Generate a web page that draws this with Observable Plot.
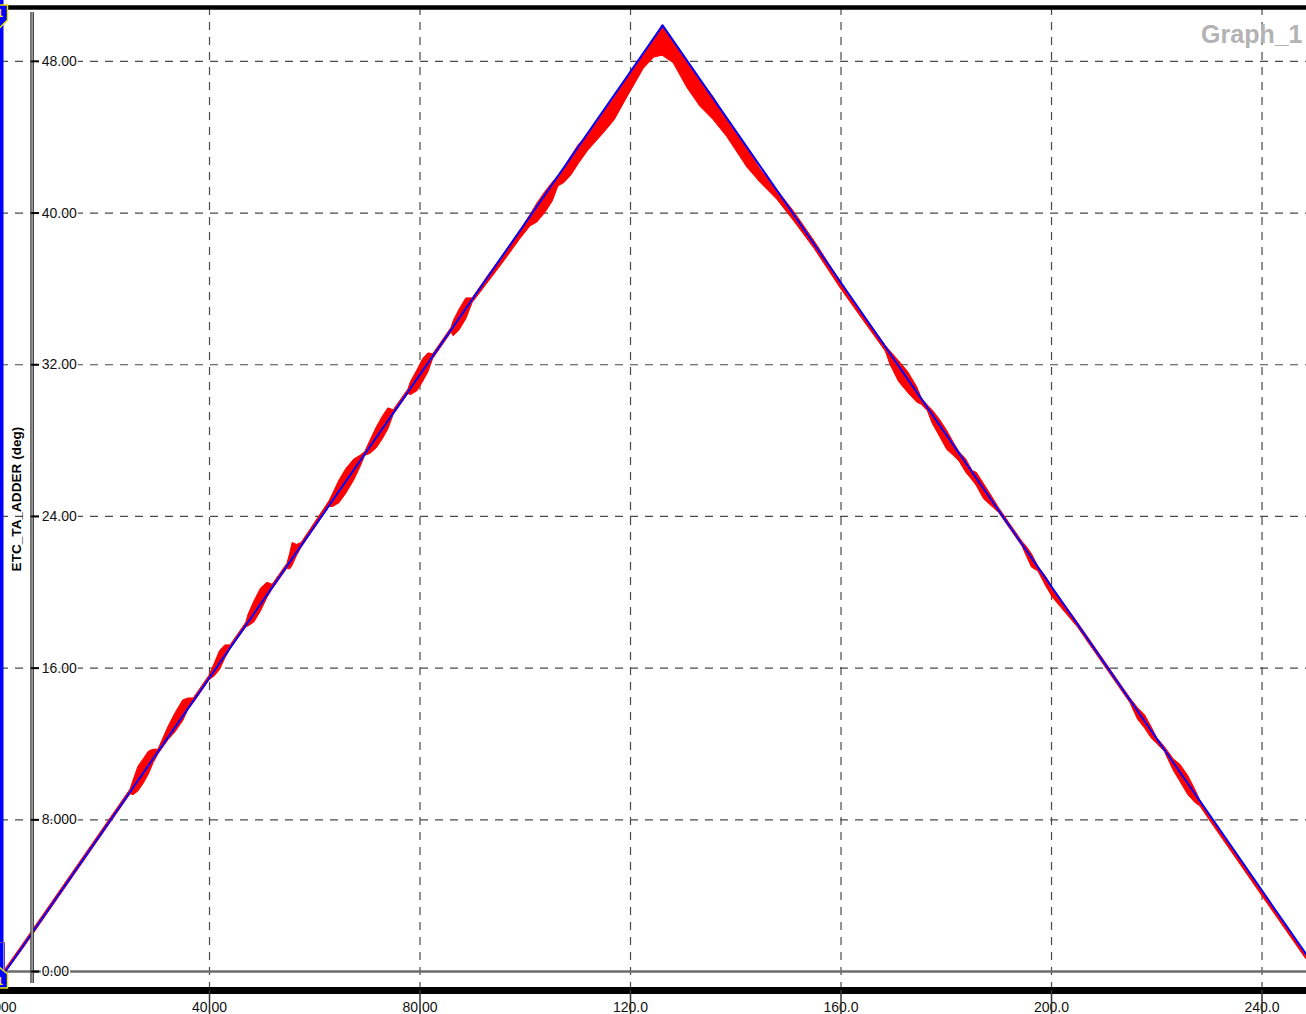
<!DOCTYPE html>
<html><head><meta charset="utf-8">
<script src="https://cdn.jsdelivr.net/npm/d3@7"></script>
<script src="https://cdn.jsdelivr.net/npm/@observablehq/plot@0.6"></script>
<style>body{margin:0;background:#fff;overflow:hidden} svg{display:block}</style>
</head><body><div id="chart"></div>
<script>
const title = "Graph_1";
const yAxisTitle = "ETC_TA_ADDER (deg)";
const xTicks = [0, 40, 80, 120, 160, 200, 240];
const xTickLabels = ["0.000", "40.00", "80.00", "120.0", "160.0", "200.0", "240.0"];
const yTicks = [0, 8, 16, 24, 32, 40, 48];
const yTickLabels = ["0.00", "8.000", "16.00", "24.00", "32.00", "40.00", "48.00"];

// blue reference signal
const blueX = [1.2, 126.1, 248.4];
const blueY = [0, 49.9, 0.9];

const redX = [1.2, 5, 10, 20, 25,
  25.6, 26.5, 27.5, 28.5, 29.4, 30.3,
  32.2, 33.5, 35, 36, 37, 40,
  41.1, 42, 43, 44, 47,
  47.4, 48.5, 49.8, 51.0, 52, 54.8,
  55.3, 55.8, 56.6, 57.5, 62.8,
  63.5, 64.7, 66, 67.5, 68.7, 69.6,
  70.6, 71.8, 73, 74, 75, 77.8,
  78.3, 79.5, 80.6, 81.6, 82.5, 86,
  86.4, 87.5, 88.8, 90, 93, 96, 99,
  101, 102.3, 103.8, 105.2, 106.3,
  107.5, 108.8, 110.2, 112, 114.9, 117, 119.4, 122.5, 124.5, 126.1,
  128.2, 130.8, 133.3, 135.8, 138.4, 142.2, 144.7, 147.9, 151, 155, 160, 165, 168.5,
  169.4, 171, 172.8, 174.5, 175.3, 176.5,
  177.4, 178.8, 180.2, 181.4,
  182.5, 183.8, 185,
  185.8, 187.2, 188.8, 190, 194.5,
  195.3, 196.3, 197.5, 199, 200.3, 205, 210, 215,
  216.4, 217.8, 219, 220.1, 221.5,
  223.2, 224.5, 226, 227.3, 228.3, 230, 240, 248.4];
const redLo = [-0.1, 1.35, 3.35, 7.35, 9.35,
  9.3, 9.5, 9.9, 10.4, 11.0, 11.45,
  12.2, 12.6, 13.2, 13.8, 14.15, 15.35,
  15.6, 15.9, 16.5, 17.0, 18.15,
  18.2, 18.4, 19.0, 19.7, 20.15, 21.25,
  21.2, 21.4, 21.9, 22.35, 24.5,
  24.5, 24.7, 25.2, 25.9, 26.6, 27.2,
  27.3, 27.6, 28.1, 28.6, 29.35, 30.45,
  30.4, 30.6, 31.1, 31.6, 32.3, 33.7,
  33.5, 33.8, 34.4, 35.25, 36.35, 37.45, 38.6,
  39.3, 39.5, 40.0, 40.6, 41.4,
  41.6, 42.0, 42.6, 43.3, 44.2, 44.9, 46.1, 47.6, 48.2, 48.3,
  47.9, 46.6, 45.6, 44.9, 44.0, 42.4, 41.6, 40.7, 39.6, 38.1, 36.0, 34.05, 32.7,
  32.0, 31.1, 30.5, 30.0, 29.9, 29.55,
  28.9, 28.2, 27.5, 27.2,
  26.9, 26.3, 25.9,
  25.6, 24.9, 24.5, 24.2, 22.4,
  21.9, 21.3, 21.1, 20.3, 19.7, 18.15, 16.15, 14.15,
  13.3, 12.8, 12.3, 12.0, 11.6,
  10.6, 10.0, 9.3, 8.9, 8.7, 8.0, 4.0, 0.65];
const redHi = [0.1, 1.6, 3.6, 7.6, 9.6,
  10.1, 10.8, 11.2, 11.6, 11.7, 11.7,
  12.9, 13.6, 14.3, 14.4, 14.4, 15.6,
  16.3, 16.9, 17.2, 17.2, 18.4,
  18.8, 19.5, 20.2, 20.5, 20.4, 21.5,
  22.0, 22.6, 22.5, 22.6, 24.8,
  25.2, 25.9, 26.5, 27.0, 27.2, 27.4,
  28.0, 28.7, 29.3, 29.7, 29.6, 30.7,
  31.1, 31.7, 32.3, 32.6, 32.55, 33.95,
  34.3, 34.9, 35.5, 35.5, 36.7, 37.85, 39.05,
  39.9, 40.5, 41.1, 41.6, 41.95,
  42.4, 43.0, 43.6, 44.1, 45.3, 46.1, 47.1, 48.4, 49.2, 49.9,
  49.0, 48.0, 47.0, 46.1, 44.9, 43.4, 42.3, 41.2, 40.1, 38.5, 36.35, 34.35, 33.0,
  32.7, 32.2, 31.6, 30.8, 30.25, 29.85,
  29.6, 29.1, 28.5, 27.9,
  27.4, 27.0, 26.4,
  26.3, 25.7, 25.0, 24.45, 22.65,
  22.4, 22.0, 21.35, 20.8, 20.2, 18.4, 16.4, 14.4,
  13.9, 13.5, 12.9, 12.3, 11.85,
  11.2, 10.9, 10.3, 9.6, 9.0, 8.25, 4.25, 0.9];

const blue = blueX.map((x, i) => ({x, y: blueY[i]}));
const red = redX.map((x, i) => ({x, lo: redLo[i], hi: redHi[i]}));

const xDomain = [0.285, 248.45];
const yDomain = [-1.0, 50.84];
const axisLineX = 6.29;
const gridStyle = {stroke: "#4a4a4a", strokeWidth: 1.2, strokeDasharray: "8,7"};

const chart = Plot.plot({
  width: 1306, height: 1014,
  marginLeft: 0, marginRight: 0, marginTop: 7, marginBottom: 24,
  style: {background: "white", fontFamily: "'Liberation Sans', Arial, Helvetica, sans-serif"},
  x: {domain: xDomain, axis: null},
  y: {domain: yDomain, axis: null},
  marks: [
    Plot.ruleY(yTicks.filter(d => d > 0), gridStyle),
    Plot.ruleX(xTicks.filter(d => d > 0), gridStyle),
    Plot.ruleY([0], {stroke: "#6b6b6b", strokeWidth: 2.5}),
    Plot.areaY(red, {x: "x", y1: "lo", y2: "hi", fill: "#ff0000", stroke: "#ff0000", strokeWidth: 1, clip: true}),
    Plot.line(blue, {x: "x", y: "y", stroke: "#0000ff", strokeWidth: 2, clip: true}),
    Plot.ruleX([axisLineX], {y1: -0.63, y2: 50.58, stroke: "#333", strokeWidth: 3.6}),
    Plot.ruleX([axisLineX], {y1: -0.63, y2: 50.58, stroke: "#c8c8c8", strokeWidth: 1.2}),
    Plot.ruleY(yTicks, {x1: 6.2, x2: 7.7, stroke: "#000", strokeWidth: 2}),
    Plot.text(yTicks, {x: 7.75, y: d => d, text: (d, i) => yTickLabels[i], textAnchor: "start", dx: 2,
      fontSize: 14, fill: "#111", stroke: "white", strokeWidth: 3}),
    Plot.ruleY([yDomain[0]], {stroke: "#000", strokeWidth: 7}),
    Plot.ruleY([yDomain[1]], {stroke: "#000", strokeWidth: 4.5}),
    Plot.text(xTicks, {x: d => d, y: yDomain[0], dy: 17, text: (d, i) => xTickLabels[i], fontSize: 14, fill: "#111"}),
    Plot.ruleX(xTicks, {y1: yDomain[0], y2: -2.3, stroke: "#333", strokeWidth: 1.5}),
    Plot.ruleX([xDomain[0]], {y1: -0.8, y2: 52, stroke: "#0000ff", strokeWidth: 6}),
    Plot.text([yAxisTitle], {frameAnchor: "left", textAnchor: "middle", rotate: -90, dx: 16, fontSize: 13.6, fontWeight: "bold", fill: "#000"}),
    Plot.text([title], {frameAnchor: "top-right", dx: -4, dy: 18, textAnchor: "end", fontSize: 25, fontWeight: "bold", fill: "#b3b3b3"})
  ]
});

// cursor handles at the left edge (decoration)
const ns = "http://www.w3.org/2000/svg";
function addPath(d, fill, stroke, sw) {
  const p = document.createElementNS(ns, "path");
  p.setAttribute("d", d); p.setAttribute("fill", fill); p.setAttribute("stroke", stroke); p.setAttribute("stroke-width", sw);
  chart.appendChild(p);
}
function addText(t, x, y) {
  const e = document.createElementNS(ns, "text");
  e.setAttribute("x", x); e.setAttribute("y", y); e.setAttribute("fill", "#f0e800");
  e.setAttribute("font-size", "10"); e.setAttribute("font-weight", "bold"); e.setAttribute("font-family", "Liberation Sans, Arial");
  e.textContent = t; chart.appendChild(e);
}
addPath("M0,942.5 H4.5 V970", "none", "#7040b0", 1);
addPath("M-1,5 H7.5 V20 L-1,28.5 Z", "#0000ff", "#e8e000", 1.5);
addText("1", 0, 17);
addPath("M-1,967 L7.5,974 V988 H-1 Z", "#0000ff", "#e8e000", 1.5);
addText("1", 0, 985);

document.getElementById("chart").appendChild(chart);
</script>
</body></html>
